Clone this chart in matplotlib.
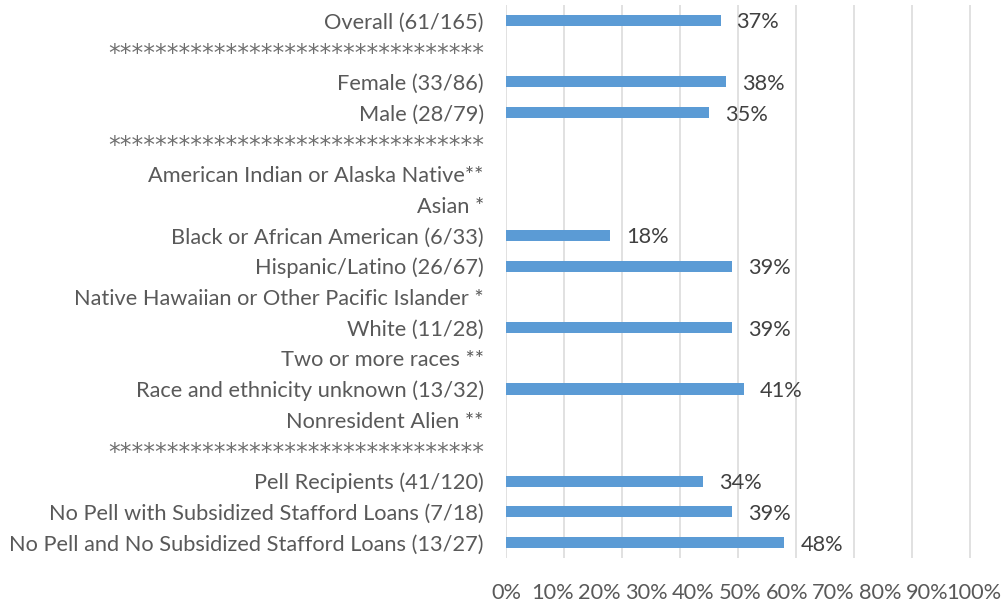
import numpy as np
import matplotlib
matplotlib.use("Agg")
import matplotlib.pyplot as plt

plt.rcParams['font.family'] = ['Lato', 'DejaVu Sans']

stars = '*' * 32
categories = [
    'Overall (61/165)', stars,
    'Female (33/86)', 'Male (28/79)', stars,
    'American Indian or Alaska Native**', 'Asian *',
    'Black or African American (6/33)', 'Hispanic/Latino (26/67)',
    'Native Hawaiian or Other Pacific Islander *', 'White (11/28)',
    'Two or more races **', 'Race and ethnicity unknown (13/32)',
    'Nonresident Alien **', stars,
    'Pell Recipients (41/120)', 'No Pell with Subsidized Stafford Loans (7/18)',
    'No Pell and No Subsidized Stafford Loans (13/27)',
]
# None = no bar drawn for that row
values = [0.37, None, 0.38, 0.35, None, None, None, 0.18, 0.39, None,
          0.39, None, 0.41, None, None, 0.34, 0.39, 0.48]
tick_labels = ['0%', '10%', '20%', '30%', '40%', '50%', '60%', '70%', '80%', '90%', '100%']

fs = 15.7
fig = plt.figure(figsize=(10.02, 6.02), dpi=100)
ax = fig.add_axes([506 / 1002, 1 - 558 / 602, 468 / 1002, 553 / 602])

y = np.arange(len(categories))
for i, v in enumerate(values):
    if v is None:
        continue
    ax.barh(i, v, height=0.36, color='#5b9bd5', zorder=3)
    ax.annotate(f'{v * 100:.0f}%', (v, i), xytext=(11.5, -1.5), textcoords='offset points',
                ha='left', va='center', fontsize=fs, color='#404040')

ax.set_xlim(0, 0.8)
ax.set_ylim(len(categories) - 0.5, -0.5)
ax.set_yticks(y)
ax.set_yticklabels(categories, fontsize=fs, color='#595959')
ax.tick_params(axis='y', length=0, pad=16)
for lbl in ax.get_yticklabels():
    if lbl.get_text() == stars:
        lbl.set_family('DejaVu Sans')
        lbl.set_fontsize(16.8)
        lbl.set_color('#6f6f6f')

# gridlines every 10 %
for g in np.arange(0, 0.81, 0.1):
    ax.axvline(g, color='#d9d9d9', lw=1.1, zorder=1)

# tick labels as rendered in the source (squeezed spacing)
ax.set_xticks(np.arange(len(tick_labels)) * 0.0807)
ax.set_xticklabels(tick_labels, fontsize=fs, color='#595959')
ax.tick_params(axis='x', length=0, pad=18)

for s in ax.spines.values():
    s.set_visible(False)

fig.savefig('out.png', dpi=100)
